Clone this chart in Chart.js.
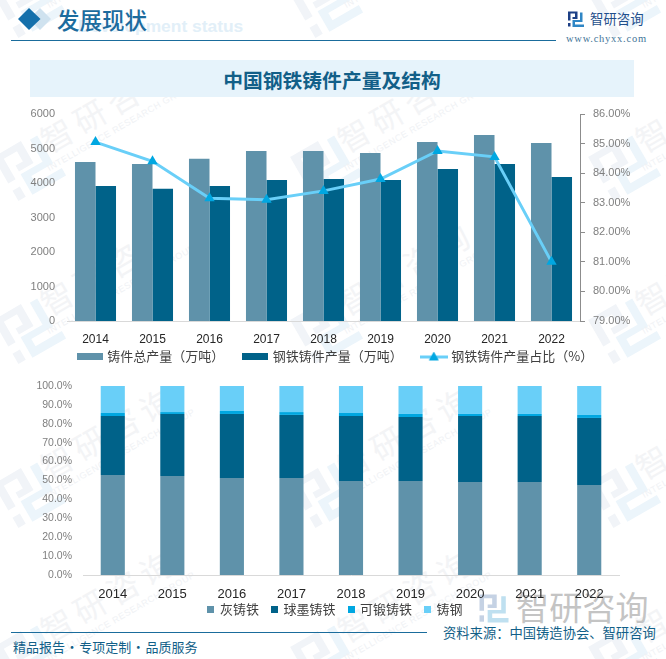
<!DOCTYPE html>
<html>
<head>
<meta charset="utf-8">
<script src="https://cdn.jsdelivr.net/npm/chart.js@4/dist/chart.umd.min.js"></script>
<style>
html, body { margin: 0; padding: 0; background: #fff; }
body { position: relative; width: 666px; height: 659px; overflow: hidden; font-family: "Noto Sans CJK SC", sans-serif; }
.abs { position: absolute; white-space: nowrap; line-height: 1; }
canvas { position: absolute; left: 0; }
#marks { position: absolute; left: 0; top: 0; }
</style>
</head>
<body>
<svg id="marks" width="666" height="659"></svg>

<div class="abs" style="left:78px;top:16px;font:bold 17.4px 'Liberation Sans';color:#e2eff8">Development status</div>
<div class="abs" style="left:57px;top:8px;font-size:22.5px;font-weight:500;color:#1c6c9e">发展现状</div>
<div class="abs" style="left:11px;top:40px;width:545px;height:1px;background:#1a6c9c"></div>
<div class="abs" style="left:590px;top:12px;font-size:13.4px;color:#1f4f8c">智研咨询</div>
<div class="abs" style="left:566px;top:33px;font:10.5px 'Liberation Serif';letter-spacing:.75px;color:#3f7598">www.chyxx.com</div>

<div class="abs" style="left:30px;top:60px;width:604px;height:37px;background:#e6f3fb"></div>
<div class="abs" style="left:30px;top:70px;width:604px;text-align:center;font-size:19.8px;font-weight:700;color:#125f88">中国钢铁铸件产量及结构</div>

<canvas id="topChart" style="top:100px" width="666" height="265"></canvas>
<canvas id="shareChart" style="top:376px" width="666" height="244"></canvas>

<div class="abs" style="left:11px;top:632px;width:416px;height:1px;background:#1a6c9c"></div>
<div class="abs" style="left:13px;top:640px;font-size:13px;word-spacing:-2.3px;color:#125f88">精品报告 · 专项定制 · 品质服务</div>
<div class="abs" style="left:443px;top:626px;font-size:13.3px;color:#125f88">资料来源：中国铸造协会、智研咨询</div>

<script>
const years = ['2014', '2015', '2016', '2017', '2018', '2019', '2020', '2021', '2022']

// 产量（万吨）与占比（%）
const totalOutput = [4610, 4550, 4700, 4930, 4930, 4870, 5190, 5390, 5160]
const ironSteelOutput = [3910, 3830, 3910, 4090, 4115, 4090, 4405, 4550, 4175]
const ironSteelShare = [85.05, 84.4, 83.15, 83.1, 83.4, 83.8, 84.75, 84.55, 81.0]

// 铸件结构（%）
const grayIron = [52.9, 52.4, 51.3, 51.3, 49.7, 49.7, 49.2, 49.2, 47.6]
const ductileIron = [31.2, 32.8, 33.9, 33.4, 34.4, 33.9, 34.9, 34.9, 35.5]
const malleableIron = [1.6, 1.0, 1.6, 1.5, 1.6, 1.6, 1.1, 1.1, 1.6]
const castSteel = [14.3, 13.8, 13.2, 13.8, 14.3, 14.8, 14.8, 14.8, 15.3]

const leftTicks = [0, 1000, 2000, 3000, 4000, 5000, 6000]
const rightTicks = [79, 80, 81, 82, 83, 84, 85, 86]
const shareTicks = [0, 10, 20, 30, 40, 50, 60, 70, 80, 90, 100]

const SLATE = '#5f92aa'
const DEEP = '#006289'
const AZURE = '#00a7e1'
const SKY = '#69cff8'

// 水印和页眉的 logo
function logo(x, y, size, rotate, dark, light) {
    const k = size / 16
    return `<g transform="translate(${x} ${y}) rotate(${rotate}) scale(${k}) translate(-8 -8)">
        <path fill="${dark}" d="M0 0H9.5V7.5H4.5V5.5H7V2H2.5V9H0Z"/>
        <path fill="${dark}" d="M0 11.5H2.5V15H0Z"/>
        <path fill="${light}" d="M12 1H14.5V10.5H7V13H16V15.5H4.5V8.5H12Z"/>
    </g>`
}

function buildBackground() {
    let svg = ''
    const colOffsets = [0, 297, 595]
    const rowOffsets = [0, 163, 326, 490, 653]
    colOffsets.forEach(function(dx) {
        rowOffsets.forEach(function(dy) {
            svg += logo(30 + dx, 4 + dy, 54, -30, '#f1f4f8', '#ecf5fb')
            svg += `<g transform="translate(${115 + dx} ${-47 + dy}) rotate(-30)" text-anchor="middle">
                <text font-size="32" letter-spacing="6" fill="#f3f4f6" font-family="Noto Sans CJK SC">智研咨询</text>
                <text y="15" font-size="9" letter-spacing=".6" fill="#f0f2f5" font-family="Liberation Sans">INTELLIGENCE RESEARCH GROUP</text>
            </g>`
        })
    })
    // 标题前的菱形
    svg += '<path fill="#cfe2ef" d="M40 8L51 19L40 30L29 19Z"/>'
    svg += '<path fill="#1570ab" d="M29 8L40.5 19L29 30L18 19Z"/>'
    svg += logo(576, 19.5, 16, 0, '#1d3f85', '#2f86c5')
    // 右下角 logo
    svg += logo(494, 609, 29, 0, '#c5d2e4', '#bfe0f0')
    svg += '<text x="516" y="620" font-size="33" letter-spacing=".2" fill="#c4c4c4" font-family="Noto Sans CJK SC">智研咨询</text>'
    document.getElementById('marks').innerHTML = svg
}

// 图例色块用小 canvas 画，线系列带三角
function swatch(w, h, color) {
    const c = document.createElement('canvas')
    c.width = w
    c.height = h
    const ctx = c.getContext('2d')
    ctx.fillStyle = color
    ctx.fillRect(0, 0, w, h)
    return c
}

function lineSwatch() {
    const c = document.createElement('canvas')
    c.width = 28
    c.height = 10
    const ctx = c.getContext('2d')
    ctx.fillStyle = SKY
    ctx.fillRect(0, 4, 28, 3)
    ctx.fillStyle = AZURE
    ctx.beginPath()
    ctx.moveTo(14, 0)
    ctx.lineTo(19, 9)
    ctx.lineTo(9, 9)
    ctx.fill()
    return c
}

function legendWith(swatches, width, padding, fontSize) {
    return {
        position: 'bottom',
        maxHeight: 18,
        labels: {
            usePointStyle: true,
            pointStyleWidth: width,
            padding: padding,
            color: '#404040',
            font: { family: 'Noto Sans CJK SC', size: fontSize },
            sort: function(a, b) { return a.datasetIndex - b.datasetIndex },
            generateLabels: function(chart) {
                const items = Chart.defaults.plugins.legend.labels.generateLabels(chart)
                items.forEach(function(item) { item.pointStyle = swatches[item.datasetIndex] })
                return items
            }
        }
    }
}

// 图例的内边距同时管横向和纵向，这里把纵向那部分抵消掉，并微调水平位置
function nudgeLegend(dx, dy) {
    return {
        id: 'nudgeLegend',
        afterLayout: function(chart) {
            chart.legend.left += dx
            chart.legend.right += dx
            chart.legend.top += dy
        }
    }
}

// 纵轴固定宽度，并去掉刻度 padding 带来的上下留白
function fitAxis(width) {
    return function(s) {
        s.width = width
        s.paddingTop = 0
        s.paddingBottom = 0
    }
}

buildBackground()
Chart.defaults.animation = false
Chart.defaults.responsive = false

new Chart(document.getElementById('topChart'), {
    type: 'bar',
    plugins: [nudgeLegend(3, -17)],
    data: {
        labels: years,
        datasets: [
            { label: '铸件总产量（万吨）', data: totalOutput, backgroundColor: SLATE, yAxisID: 'y', order: 2 },
            { label: '钢铁铸件产量（万吨）', data: ironSteelOutput, backgroundColor: DEEP, yAxisID: 'y', order: 2 },
            {
                type: 'line', label: '钢铁铸件产量占比（%）', data: ironSteelShare, yAxisID: 'y2', order: 1,
                borderColor: SKY, borderWidth: 3, tension: 0,
                pointStyle: 'triangle', pointRadius: 6, pointBackgroundColor: AZURE, pointBorderColor: AZURE, pointBorderWidth: 0
            }
        ]
    },
    options: {
        layout: { padding: { top: 14 } },
        datasets: { bar: { barPercentage: 1, categoryPercentage: 0.72 } },
        plugins: {
            legend: legendWith([swatch(26, 7, SLATE), swatch(26, 7, DEEP), lineSwatch()], 22, 20, 13),
            tooltip: { enabled: false }
        },
        scales: {
            x: {
                grid: { display: false, drawTicks: false },
                border: { color: '#d9d9d9', width: 1 },
                ticks: { color: '#262626', font: { family: 'Liberation Sans', size: 12 }, padding: 11, maxRotation: 0 },
                afterFit: function(s) { s.height = 26 }
            },
            y: {
                min: 0, max: 6000,
                afterBuildTicks: function(s) { s.ticks = leftTicks.map(v => ({ value: v })) },
                grid: { display: false, drawTicks: false },
                border: { display: false },
                ticks: {
                    color: '#7f7f7f', font: { family: 'Liberation Sans', size: 11 }, padding: 12,
                    callback: function(v) { return String(v) }
                },
                afterFit: fitAxis(67)
            },
            y2: {
                position: 'right',
                min: 79, max: 86,
                afterBuildTicks: function(s) { s.ticks = rightTicks.map(v => ({ value: v })) },
                grid: { drawOnChartArea: false, color: '#8c8c8c', tickLength: 5 },
                border: { color: '#8c8c8c' },
                ticks: {
                    color: '#7f7f7f', font: { family: 'Liberation Sans', size: 11 }, padding: 8,
                    callback: function(v) { return v.toFixed(2) + '%' }
                },
                afterFit: fitAxis(86)
            }
        }
    }
})

new Chart(document.getElementById('shareChart'), {
    type: 'bar',
    plugins: [nudgeLegend(26, -12)],
    data: {
        labels: years,
        datasets: [
            { label: '灰铸铁', data: grayIron, backgroundColor: SLATE },
            { label: '球墨铸铁', data: ductileIron, backgroundColor: DEEP },
            { label: '可锻铸铁', data: malleableIron, backgroundColor: AZURE },
            { label: '铸钢', data: castSteel, backgroundColor: SKY }
        ]
    },
    options: {
        layout: { padding: { top: 10, right: 47 } },
        datasets: { bar: { barPercentage: 1, categoryPercentage: 0.405 } },
        plugins: {
            legend: legendWith([swatch(7, 7, SLATE), swatch(7, 7, DEEP), swatch(7, 7, AZURE), swatch(7, 7, SKY)], 5, 13, 13),
            tooltip: { enabled: false }
        },
        scales: {
            x: {
                stacked: true,
                grid: { display: false, drawTicks: false },
                border: { color: '#d9d9d9', width: 1 },
                ticks: { color: '#262626', font: { family: 'Liberation Sans', size: 13 }, padding: 12, maxRotation: 0 },
                afterFit: function(s) { s.height = 27 }
            },
            y: {
                stacked: true,
                min: 0, max: 100,
                afterBuildTicks: function(s) { s.ticks = shareTicks.map(v => ({ value: v })) },
                ticks: {
                    autoSkip: false, color: '#7f7f7f', font: { family: 'Liberation Sans', size: 10.5 }, padding: 11,
                    callback: function(v) { return v.toFixed(1) + '%' }
                },
                grid: { display: false, drawTicks: false },
                border: { display: false },
                afterFit: fitAxis(83)
            }
        }
    }
})
</script>
</body>
</html>
